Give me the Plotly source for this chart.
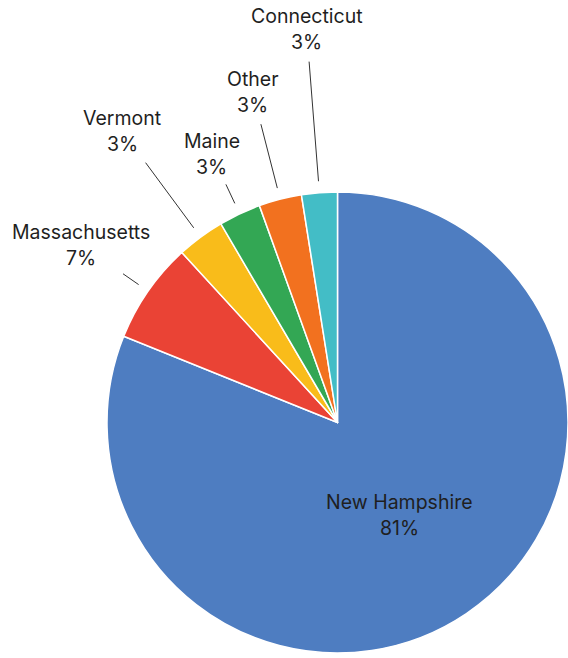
import math
import plotly.graph_objects as go

# ---- data ----
states = ["New Hampshire", "Massachusetts", "Vermont", "Maine", "Other", "Connecticut"]
shares = [81.1, 7.1, 3.35, 2.95, 3.0, 2.5]
pct_labels = ["81%", "7%", "3%", "3%", "3%", "3%"]

# ---- style ----
colors = ["#4E7DC1", "#EA4335", "#F9BC1A", "#33A754", "#F2711F", "#43BDC6"]
W, H = 568, 658
CX, CY, R = 337.5, 422.5, 230.5          # pie centre / radius in px
line_start_r = R + 11.5
line_end_r = [None, 261, 323, 263, 308, 362]
text_r = [111.6, 311.6, 362, 296, 341.6, 394.8]
FONT = "Inter"
FSIZE = 19.5
LINE_GAP = 26
TEXT_COLOR = "#1f1f1f"

fig = go.Figure(go.Pie(
    labels=states, values=shares, sort=False, direction="clockwise", rotation=0,
    textinfo="none", showlegend=False,
    marker=dict(colors=colors, line=dict(color="white", width=1.5)),
    domain=dict(x=[(CX - R) / W, min(1.0, (CX + R) / W)],
                y=[(H - CY - R) / H, (H - CY + R) / H]),
))

def to_paper(r, theta_deg):
    t = math.radians(theta_deg)
    px = CX + r * math.sin(t)
    py = CY - r * math.cos(t)
    return px / W, 1 - py / H

total = sum(shares)
cum = 0.0
annotations, shapes = [], []
for i, (name, val, pct) in enumerate(zip(states, shares, pct_labels)):
    mid = (cum + val / 2) / total * 360
    cum += val
    tx, ty = to_paper(text_r[i], mid)
    for txt, dy in ((name, LINE_GAP / 2), (pct, -LINE_GAP / 2)):
        annotations.append(dict(
            x=tx, y=ty + dy / H, xref="paper", yref="paper", text=txt,
            showarrow=False, xanchor="center", yanchor="middle",
            font=dict(family=FONT, size=FSIZE, color=TEXT_COLOR)))
    if line_end_r[i] is not None:
        x0, y0 = to_paper(line_start_r, mid)
        x1, y1 = to_paper(line_end_r[i], mid)
        shapes.append(dict(type="line", xref="paper", yref="paper",
                           x0=x0, y0=y0, x1=x1, y1=y1,
                           line=dict(color="#333333", width=1)))

fig.update_layout(
    width=W, height=H, margin=dict(l=0, r=0, t=0, b=0),
    paper_bgcolor="white", plot_bgcolor="white",
    annotations=annotations, shapes=shapes,
)

fig.write_html("out.html", config={"displayModeBar": False},
               post_script="document.body.style.margin='0';document.body.style.overflow='hidden';")
